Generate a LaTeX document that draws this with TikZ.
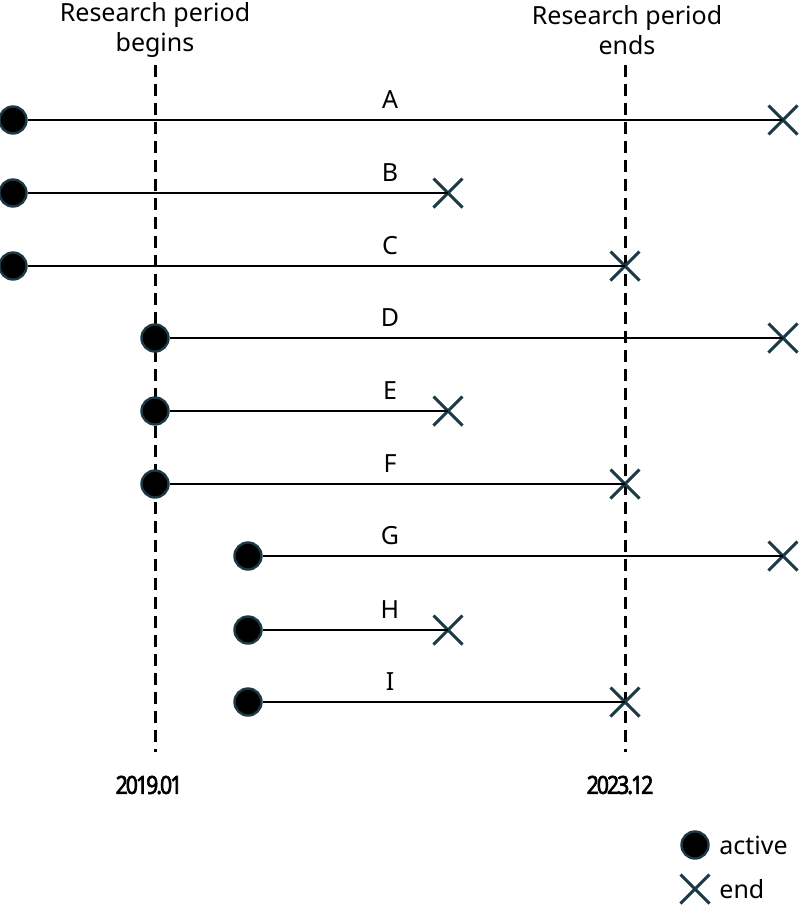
\documentclass[tikz,border=0pt]{standalone}
\usepackage{fontspec}
\setmainfont{Noto Sans}
\newfontfamily\datefont{Noto Sans}[FakeBold=2.5,FakeStretch=0.85,LetterSpace=-8]
\usetikzlibrary{positioning,shapes.misc}
\definecolor{mkcol}{RGB}{28,58,70}
\tikzset{
  period/.style={line width=1.5pt,dash pattern=on 6pt off 3.5pt},
  span/.style={line width=1pt},
  actv/.style={circle,fill=black,draw=mkcol,line width=1.2pt,minimum size=13.5pt,inner sep=0pt},
  endx/.style={cross out,draw=mkcol,line width=1.5pt,minimum size=13pt,inner sep=0pt},
  lbl/.style={font=\fontsize{12.5}{15}\selectfont,inner sep=1pt},
  datelbl/.style={font=\fontsize{12.5}{14}\selectfont\datefont,inner sep=1pt},
}
\begin{document}
\begin{tikzpicture}[x=0.5pt,y=-0.5pt]
  \useasboundingbox (0,0) rectangle (800,911);
  % research period boundaries
  \node[lbl,align=center] (tbeg) at (155,30) {Research period\\begins};
  \node[lbl,align=center] (tend) at (627,30) {Research period\\ends};
  \coordinate (pb1) at (155,65);  \coordinate (pb2) at (155,752);
  \coordinate (pe1) at (625,65);  \coordinate (pe2) at (625,752);
  \draw[period] (pb1) -- (pb2);
  \draw[period] (pe1) -- (pe2);
  \node[datelbl] (dbeg) at (149,785) {2019.01};
  \node[datelbl] (dend) at (620,785) {2023.12};
  % cases: start (active) and end
  \foreach \nm/\yy/\xa/\xb in {A/120/13/783, B/193/13/448, C/266/13/625,
      D/338/155/783, E/411/155/448, F/484/155/625,
      G/556/248/783, H/630/248/448, I/702/248/625}{
    \node[endx] (e\nm) at (\xb,\yy) {};
    \node[actv] (s\nm) at (\xa,\yy) {};
    \draw[span] (s\nm) -- (e\nm.center);
    \node[lbl] (l\nm) at (390,\yy-20) {\nm};
  }
  % legend
  \node[actv] (kact) at (695,845) {};
  \node[lbl,right=11pt of kact.center,anchor=west] (tact) {active};
  \node[endx] (kend) at (695,889) {};
  \node[lbl,right=11pt of kend.center,anchor=west] (tend2) {end};
\end{tikzpicture}
\end{document}
